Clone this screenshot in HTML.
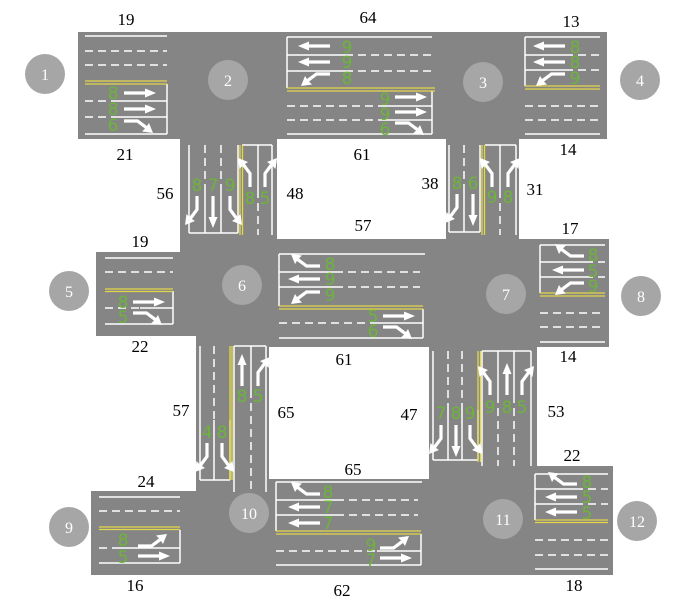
<!DOCTYPE html>
<html><head><meta charset="utf-8"><style>
html,body{margin:0;padding:0;background:#fff;}
svg{display:block;}
.w{stroke:#fff;stroke-width:1.5;fill:none}
.d{stroke:#fff;stroke-width:1.5;fill:none;stroke-dasharray:8,5}
.y{stroke:#e2d84a;stroke-width:1.3;fill:none}
.g{fill:#6cb43a;font-family:"DejaVu Sans","Liberation Sans",sans-serif;font-size:17px;text-anchor:middle}
.l{fill:#000;font-family:"Liberation Serif",serif;font-size:17px;text-anchor:middle}
.c{fill:#fff;font-family:"Liberation Serif",serif;font-size:16px;text-anchor:middle}
</style></head><body>
<svg width="700" height="606" viewBox="0 0 700 606" xmlns="http://www.w3.org/2000/svg">
<defs>
<path id="s" d="M0,-1.6 H21 V-4.5 L32,0 L21,4.5 V1.6 H0 Z" fill="#fff"/>
<path id="t" d="M0,-1.6 H14 L23,5 L25,2 L29,12 L18,10.5 L21,7.6 L13,1.6 H0 Z" fill="#fff"/>
<path id="l" d="M0,1.6 H14 L23,-5 L25,-2 L29,-12 L18,-10.5 L21,-7.6 L13,-1.6 H0 Z" fill="#fff"/>
</defs>
<g fill="#858585">
<rect x="78" y="32" width="529" height="107"/>
<rect x="180" y="138" width="97" height="102"/>
<rect x="446" y="138" width="73" height="102"/>
<rect x="180" y="239" width="17" height="97"/>
<rect x="196" y="239" width="413" height="108"/>
<rect x="96" y="252" width="85" height="84"/>
<rect x="196" y="346" width="73" height="146"/>
<rect x="429" y="346" width="108" height="121"/>
<rect x="91" y="491" width="178" height="84"/>
<rect x="196" y="479" width="234" height="96"/>
<rect x="429" y="466" width="184" height="109"/>
</g>
<g fill="#a6a6a6">
<circle cx="45" cy="74" r="20"/><circle cx="228" cy="80" r="20"/><circle cx="483" cy="82" r="20"/><circle cx="640" cy="80" r="20"/>
<circle cx="69" cy="291" r="20"/><circle cx="242" cy="285" r="20"/><circle cx="506" cy="294" r="20"/><circle cx="641" cy="296" r="20"/>
<circle cx="69" cy="527" r="20"/><circle cx="249" cy="513" r="20"/><circle cx="503" cy="519" r="20"/><circle cx="637" cy="521" r="20"/>
</g>
<g class="c">
<text x="45" y="80">1</text><text x="228" y="86">2</text><text x="483" y="88">3</text><text x="640" y="86">4</text>
<text x="69" y="297">5</text><text x="242" y="291">6</text><text x="506" y="300">7</text><text x="641" y="302">8</text>
<text x="69" y="533">9</text><text x="249" y="519">10</text><text x="503" y="525">11</text><text x="637" y="527">12</text>
</g>

<!-- Road 1 -->
<path class="w" d="M85,36H167 M112,101H167 M85,134H167 M167,84V134 M112,117H167"/>
<path class="d" d="M85,51H167 M85,65H167 M85,101H112 M85,117H112"/>
<path class="y" d="M85,81H167 M85,84H167"/>
<text class="g" x="113" y="99">8</text><text class="g" x="113" y="115">8</text><text class="g" x="113" y="131">6</text>
<use href="#s" transform="translate(124,93)"/><use href="#s" transform="translate(124,109)"/><use href="#t" transform="translate(124,121)"/>

<!-- Road 2-3 -->
<path class="w" d="M287,37H432 M287,37V88 M287,55H345 M287,71H345 M432,91V134 M380,106H432 M380,120H432 M287,134H432"/>
<path class="d" d="M345,55H432 M345,71H432 M287,106H380 M287,120H380"/>
<path class="y" d="M287,88H435 M287,91H435"/>
<text class="g" x="347" y="53">9</text><text class="g" x="347" y="68">9</text><text class="g" x="347" y="84">8</text>
<use href="#s" transform="translate(330,46) rotate(180)"/><use href="#s" transform="translate(330,62) rotate(180)"/><use href="#l" transform="translate(330,74) rotate(180)"/>
<text class="g" x="385" y="105">9</text><text class="g" x="385" y="120">9</text><text class="g" x="385" y="135">6</text>
<use href="#s" transform="translate(395,97)"/><use href="#s" transform="translate(395,112)"/><use href="#t" transform="translate(395,123)"/>

<!-- Road 3-4 -->
<path class="w" d="M525,37H600 M525,37V86 M525,55H565 M525,70H565 M525,134H600"/>
<path class="d" d="M565,55H600 M565,70H600 M525,106H600 M525,120H600"/>
<path class="y" d="M525,86H600 M525,89H600"/>
<text class="g" x="575" y="53">8</text><text class="g" x="575" y="68">8</text><text class="g" x="575" y="84">9</text>
<use href="#s" transform="translate(565,46) rotate(180)"/><use href="#s" transform="translate(565,62) rotate(180)"/><use href="#l" transform="translate(565,74) rotate(180)"/>

<!-- Upper stem 2 -->
<path class="w" d="M189,145V233 M238,145V233 M189,233H238 M205,190V233 M221,190V233 M242,145H272 M272,145V235 M258,145V190"/>
<path class="d" d="M205,145V190 M221,145V190 M258,190V235"/>
<path class="y" d="M240,145V235 M242.5,145V235"/>
<text class="g" x="197" y="191">8</text><text class="g" x="213" y="191">7</text><text class="g" x="230" y="191">9</text>
<use href="#t" transform="translate(197,196) rotate(90)"/><use href="#s" transform="translate(213,196) rotate(90)"/><use href="#l" transform="translate(230,196) rotate(90)"/>
<text class="g" x="250" y="204">8</text><text class="g" x="265" y="204">5</text>
<use href="#l" transform="translate(250,187) rotate(-90)"/><use href="#t" transform="translate(265,187) rotate(-90)"/>

<!-- Upper stem 3 -->
<path class="w" d="M449,145V232 M480,145V232 M449,232H480 M464,190V232 M485,145H516 M516,145V235 M500,145V190"/>
<path class="d" d="M464,145V190 M500,190V235"/>
<path class="y" d="M482,145V235 M484.5,145V235"/>
<text class="g" x="457" y="189">8</text><text class="g" x="473" y="189">6</text>
<use href="#t" transform="translate(457,194) rotate(90)"/><use href="#s" transform="translate(473,194) rotate(90)"/>
<text class="g" x="492" y="203">9</text><text class="g" x="508" y="203">8</text>
<use href="#l" transform="translate(492,187) rotate(-90)"/><use href="#t" transform="translate(508,187) rotate(-90)"/>

<!-- Middle 5 -->
<path class="w" d="M105,258H173 M173,291V324 M140,308H173 M105,324H173"/>
<path class="d" d="M105,272H173 M105,308H140"/>
<path class="y" d="M105,289H173 M105,291.5H173"/>
<text class="g" x="123" y="308">8</text><text class="g" x="123" y="323">5</text>
<use href="#s" transform="translate(133,302)"/><use href="#t" transform="translate(133,313)"/>

<!-- Middle 6-7 -->
<path class="w" d="M279,254H425 M279,254V306 M279,272H335 M279,287H335 M423,309V338 M370,323H423 M279,338H423"/>
<path class="d" d="M335,272H420 M335,287H420 M279,323H370"/>
<path class="y" d="M279,306H423 M279,309H423"/>
<text class="g" x="330" y="270">8</text><text class="g" x="330" y="285">9</text><text class="g" x="330" y="301">9</text>
<use href="#t" transform="translate(320,266) rotate(180)"/><use href="#s" transform="translate(320,279) rotate(180)"/><use href="#l" transform="translate(320,292) rotate(180)"/>
<text class="g" x="373" y="322">5</text><text class="g" x="373" y="337">6</text>
<use href="#s" transform="translate(383,316)"/><use href="#t" transform="translate(383,327)"/>

<!-- Road 7-8 -->
<path class="w" d="M540,245H605 M540,245V293 M540,262H585 M540,277H585 M540,342H605"/>
<path class="d" d="M585,262H605 M585,277H605 M540,313H605 M540,327H605"/>
<path class="y" d="M540,293H605 M540,296H605"/>
<text class="g" x="593" y="261">8</text><text class="g" x="593" y="277">5</text><text class="g" x="593" y="292">9</text>
<use href="#t" transform="translate(584,256) rotate(180)"/><use href="#s" transform="translate(584,270) rotate(180)"/><use href="#l" transform="translate(584,283) rotate(180)"/>

<!-- Lower stem 6 -->
<path class="w" d="M200,346V480 M230,420V480 M200,480H230 M214,420V480 M234,346H266 M234,346V492 M266,346V492 M251,346V390"/>
<path class="d" d="M214,346V420 M251,390V490"/>
<path class="y" d="M230,346V480 M232,346V480"/>
<text class="g" x="207" y="438">4</text><text class="g" x="222" y="438">8</text>
<use href="#t" transform="translate(207,443) rotate(90)"/><use href="#l" transform="translate(222,443) rotate(90)"/>
<text class="g" x="242" y="402">8</text><text class="g" x="258" y="402">5</text>
<use href="#s" transform="translate(242,386) rotate(-90)"/><use href="#t" transform="translate(258,386) rotate(-90)"/>

<!-- Lower stem 7 -->
<path class="w" d="M433,351V460 M478,410V460 M433,460H478 M448,410V460 M462,410V460 M482,351H531 M482,351V466 M531,351V466 M498,351V395 M514,351V395"/>
<path class="d" d="M448,351V410 M462,351V410 M498,395V466 M514,395V466"/>
<path class="y" d="M478,351V462 M480.5,351V462"/>
<text class="g" x="441" y="419">7</text><text class="g" x="456" y="419">8</text><text class="g" x="470" y="419">9</text>
<use href="#t" transform="translate(441,425) rotate(90)"/><use href="#s" transform="translate(456,425) rotate(90)"/><use href="#l" transform="translate(470,425) rotate(90)"/>
<text class="g" x="490" y="413">9</text><text class="g" x="507" y="413">8</text><text class="g" x="522" y="413">5</text>
<use href="#l" transform="translate(490,395) rotate(-90)"/><use href="#s" transform="translate(507,395) rotate(-90)"/><use href="#t" transform="translate(522,395) rotate(-90)"/>

<!-- Block 9 -->
<path class="w" d="M99,497H180 M180,530V563 M120,548H180 M99,563H180"/>
<path class="d" d="M99,511H180 M99,548H120"/>
<path class="y" d="M99,527H180 M99,529.5H180"/>
<text class="g" x="123" y="546">8</text><text class="g" x="123" y="563">5</text>
<use href="#l" transform="translate(138,546)"/><use href="#s" transform="translate(138,556)"/>

<!-- Road 10-11 -->
<path class="w" d="M276,482H422 M276,482V531 M276,500H336 M276,515H336 M421,534V565 M377,551H421 M276,565H421"/>
<path class="d" d="M336,500H418 M336,515H418 M276,551H377"/>
<path class="y" d="M276,531H421 M276,534H421"/>
<text class="g" x="328" y="498">8</text><text class="g" x="328" y="513">7</text><text class="g" x="328" y="529">7</text>
<use href="#t" transform="translate(320,494) rotate(180)"/><use href="#s" transform="translate(320,507) rotate(180)"/><use href="#s" transform="translate(320,523) rotate(180)"/>
<text class="g" x="371" y="551">9</text><text class="g" x="371" y="566">7</text>
<use href="#l" transform="translate(380,548)"/><use href="#s" transform="translate(380,558)"/>

<!-- Block 12 -->
<path class="w" d="M535,474H608 M535,474V520 M535,489H575 M535,504H575 M535,569H608"/>
<path class="d" d="M575,489H608 M575,504H608 M535,540H608 M535,555H608"/>
<path class="y" d="M535,520H608 M535,522.5H608"/>
<text class="g" x="587" y="488">8</text><text class="g" x="587" y="503">5</text><text class="g" x="587" y="519">5</text>
<use href="#t" transform="translate(577,484) rotate(180)"/><use href="#s" transform="translate(577,497) rotate(180)"/><use href="#s" transform="translate(577,512) rotate(180)"/>

<!-- Labels -->
<g class="l">
<text x="126" y="25">19</text><text x="368" y="23">64</text><text x="571" y="27">13</text>
<text x="125" y="160">21</text><text x="362" y="160">61</text><text x="568" y="155">14</text>
<text x="165" y="199">56</text><text x="295" y="199">48</text><text x="430" y="189">38</text><text x="535" y="195">31</text>
<text x="363" y="231">57</text><text x="140" y="247">19</text><text x="570" y="234">17</text>
<text x="140" y="352">22</text><text x="344" y="365">61</text><text x="568" y="362">14</text>
<text x="181" y="416">57</text><text x="286" y="418">65</text><text x="409" y="420">47</text><text x="556" y="417">53</text>
<text x="353" y="475">65</text><text x="146" y="487">24</text><text x="572" y="461">22</text>
<text x="135" y="591">16</text><text x="342" y="596">62</text><text x="574" y="591">18</text>
</g>
</svg>
</body></html>
